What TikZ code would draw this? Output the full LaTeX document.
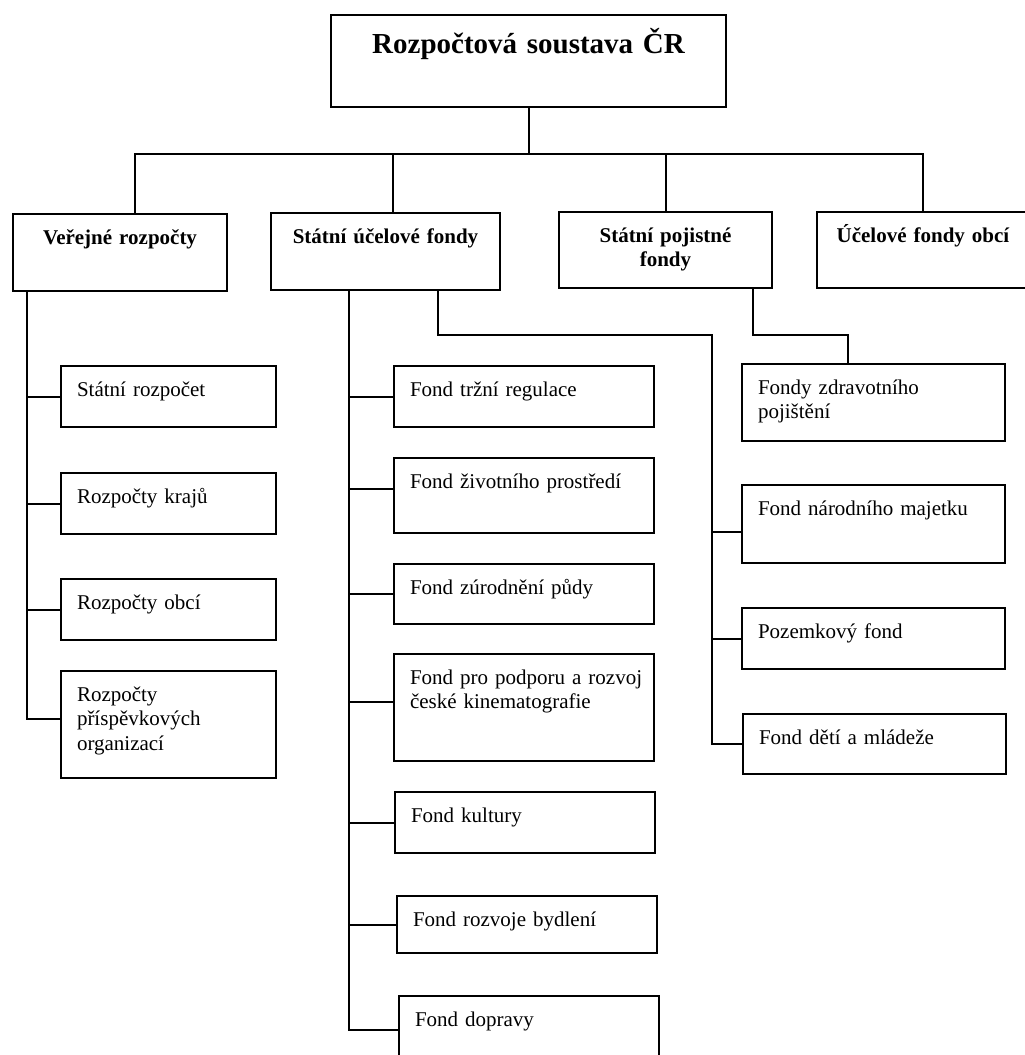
\documentclass[tikz,border=0pt]{standalone}
\usepackage{fontspec}
\setmainfont{Liberation Serif}
\usetikzlibrary{positioning}

\begin{document}
\begin{tikzpicture}[x=1pt,y=-1pt,
    box/.style={draw, line width=2pt, anchor=north west, inner xsep=16pt, inner ysep=0pt,
                text height=30pt, align=left, font=\fontsize{21}{24.5}\selectfont},
    head/.style={box, align=center, font=\bfseries\fontsize{21}{24.5}\selectfont},
    link/.style={line width=2pt}]

\useasboundingbox (0,0) rectangle (1025,1055);
\clip (0,0) rectangle (1025,1055);

% top
\node[head, text width=363pt, text height=38pt, text depth=54pt,
      font=\bfseries\fontsize{29}{34}\selectfont] (rs) at (330,14) {Rozpočtová soustava ČR};

% second level
\node[head, text width=182pt, text depth=47pt] (ver) at ( 12,213) {Veřejné rozpočty};
\node[head, text width=197pt, text depth=47pt] (suf) at (270,212) {Státní účelové fondy};
\node[head, text width=181pt, text depth=46pt] (spf) at (558,211) {Státní pojistné\\fondy};
\node[head, text width=180pt, text depth=46pt] (ufo) at (816,211) {Účelové fondy obcí};

% verejne rozpocty
\node[box, text width=183pt, text depth=31pt] (sr)  at (60,365) {Státní rozpočet};
\node[box, text width=183pt, text depth=31pt] (rk)  at (60,472) {Rozpočty krajů};
\node[box, text width=183pt, text depth=31pt] (ro)  at (60,578) {Rozpočty obcí};
\node[box, text width=183pt, text depth=77pt] (rpo) at (60,670) {Rozpočty\\příspěvkových\\organizací};

% statni ucelove fondy
\node[box, text width=228pt, text depth=31pt] (ftr) at (393,365) {Fond tržní regulace};
\node[box, text width=228pt, text depth=45pt] (fzp) at (393,457) {Fond životního prostředí};
\node[box, text width=228pt, text depth=30pt] (fzu) at (393,563) {Fond zúrodnění půdy};
\node[box, text width=228pt, text depth=77pt] (fpr) at (393,653)
    {\makebox[228pt][l]{Fond pro podporu a rozvoj}\\české kinematografie};
\node[box, text width=228pt, text depth=31pt] (fku) at (394,791) {Fond kultury};
\node[box, text width=228pt, text depth=27pt] (frb) at (396,895) {Fond rozvoje bydlení};
\node[box, text width=228pt, text depth=38pt] (fdo) at (398,995) {Fond dopravy};

% right column
\node[box, text width=231pt, text depth=47pt] (fzd) at (741,363) {Fondy zdravotního\\pojištění};
\node[box, text width=231pt, text depth=48pt] (fnm) at (741,484) {Fond národního majetku};
\node[box, text width=231pt, text depth=31pt] (pzf) at (741,607) {Pozemkový fond};
\node[box, text width=231pt, text depth=30pt] (fdm) at (742,713) {Fond dětí a mládeže};

% connectors
\draw[link] (rs.south) -- ++(0,46) coordinate (bus);
\draw[link] ([xshift=15pt]ver.north) |- (bus) -| (ufo.north);
\draw[link] ([xshift=7.5pt]suf.north) coordinate (sufin) -- (sufin |- bus);
\draw[link] (spf.north) -- (spf.north |- bus);

\coordinate (vtrunk) at ([xshift=15pt]ver.south west);
\draw[link] (vtrunk) |- ([yshift=6pt]rpo.west);
\foreach \n in {sr,rk,ro}
    \draw[link] (\n.west) -- (\n.west -| vtrunk);

\coordinate (strunk) at ([xshift=-36.5pt]suf.south);
\coordinate (fzpin) at ([yshift=7pt]fzp.west);
\coordinate (fprin) at ([yshift=6pt]fpr.west);
\draw[link] (strunk) |- (fdo.west);
\foreach \n in {ftr,fzpin,fzu,fprin,fku,frb}
    \draw[link] (\n) -- (\n -| strunk);

\coordinate (ptrunk) at ([xshift=-30pt]fdm.west);
\coordinate (fnmin) at ([yshift=-8pt]fnm.west);
\draw[link] ([xshift=52.5pt]suf.south) -- ++(0,44) -| (ptrunk) -- (fdm.west);
\foreach \n in {fnmin,pzf}
    \draw[link] (\n) -- (\n -| ptrunk);

\draw[link] ([xshift=87.5pt]spf.south) -- ++(0,46) -| ([xshift=-25.5pt]fzd.north);

\end{tikzpicture}
\end{document}
